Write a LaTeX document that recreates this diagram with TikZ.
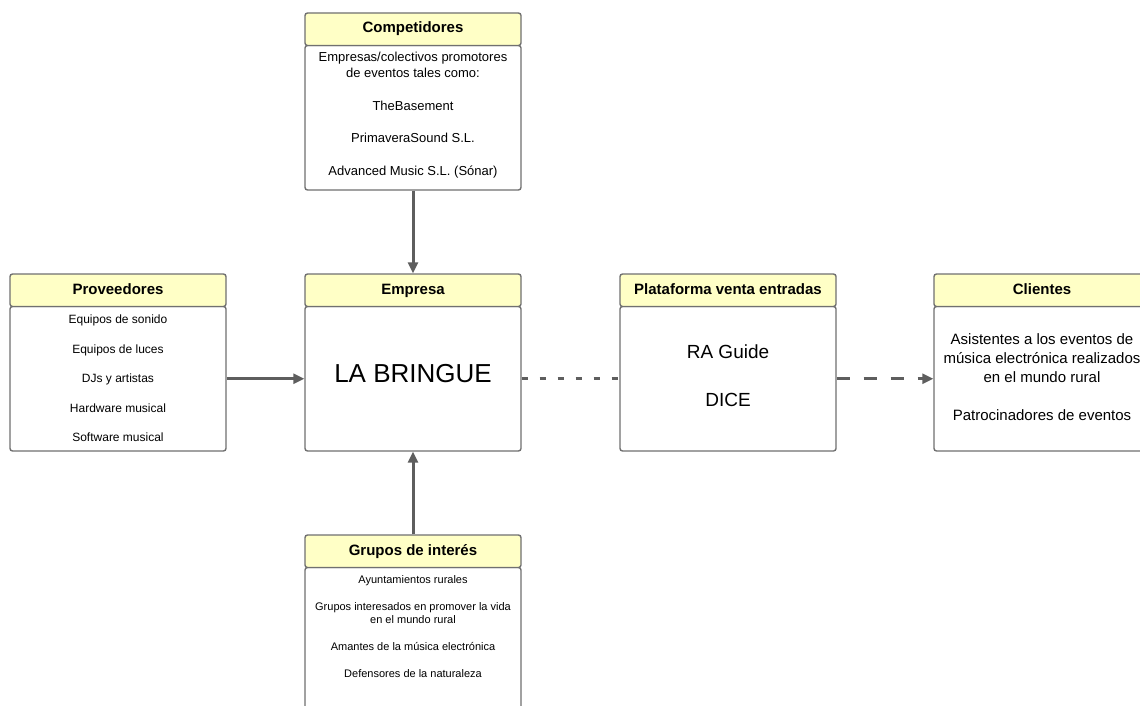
\documentclass[tikz,border=0pt]{standalone}
\usepackage{fontspec}
\setmainfont{Liberation Sans}
\usetikzlibrary{arrows.meta}
\definecolor{hdr}{HTML}{FFFFC6}
\definecolor{edge}{HTML}{707070}
\definecolor{arrc}{HTML}{5E5E5E}
\begin{document}
\begin{tikzpicture}[x=1pt,y=-1pt,
  hbox/.style={draw=edge, line width=1.4pt, fill=hdr, rounded corners=2.5pt,
    minimum width=216pt, minimum height=32.5pt, inner sep=0pt,
    text height=11pt, text depth=3.5pt,
    font=\fontsize{15}{18}\selectfont\bfseries},
  bbox/.style={draw=edge, line width=1.4pt, fill=white, rounded corners=2.5pt,
    minimum width=216pt, inner sep=0pt},
  btext/.style={align=center, inner sep=0pt},
  arr/.style={draw=arrc, line width=3pt, -{Triangle[length=11pt,width=10pt]}},
  dotline/.style={draw=arrc, line width=3pt, dash pattern=on 6pt off 12pt},
]
\useasboundingbox (0,0) rectangle (1140,706);
\clip (0,0) rectangle (1140,706);

% Competidores
\node[bbox, minimum height=144.5pt] (compb) at (413,117.75) {};
\node[hbox] (comph) at (413,29.25) {Competidores};
\node[btext, font=\fontsize{13}{16.2}\selectfont] (compt) at (413,115)
  {Empresas/colectivos promotores\\de eventos tales como:\\[16.2pt]TheBasement\\[16.2pt]PrimaveraSound S.L.\\[16.2pt]Advanced Music S.L. (Sónar)};

% Proveedores
\node[bbox, minimum height=144.5pt] (provb) at (118,378.75) {};
\node[hbox] (provh) at (118,290.25) {Proveedores};
\node[btext, font=\fontsize{12}{29.5}\selectfont] (provt) at (118,378.5)
  {Equipos de sonido\\Equipos de luces\\DJs y artistas\\Hardware musical\\Software musical};

% Empresa
\node[bbox, minimum height=144.5pt] (empb) at (413,378.75) {};
\node[hbox] (emph) at (413,290.25) {Empresa};
\node[btext, font=\fontsize{26}{30}\selectfont] (empt) at (413,374) {LA BRINGUE};

% Plataforma
\node[bbox, minimum height=144.5pt] (platb) at (728,378.75) {};
\node[hbox] (plath) at (728,290.25) {Plataforma venta entradas};
\node[btext, font=\fontsize{19}{48}\selectfont] (platt) at (728,376) {RA Guide\\DICE};

% Clientes
\node[bbox, minimum height=144.5pt] (clib) at (1042,378.75) {};
\node[hbox] (clih) at (1042,290.25) {Clientes};
\node[btext, font=\fontsize{15}{19}\selectfont] (clit) at (1042,377)
  {Asistentes a los eventos de\\música electrónica realizados\\en el mundo rural\\[19pt]Patrocinadores de eventos};

% Grupos de interes
\node[bbox, minimum height=162.5pt] (grpb) at (413,648.75) {};
\node[hbox] (grph) at (413,551.25) {Grupos de interés};
\node[btext, font=\fontsize{11}{13.5}\selectfont] (grpt) at (413,626.5)
  {Ayuntamientos rurales\\[13.5pt]Grupos interesados en promover la vida\\en el mundo rural\\[13.5pt]Amantes de la música electrónica\\[13.5pt]Defensores de la naturaleza};

% Connectors
\draw[arr] (compb.south) -- (emph.north);
\draw[arr] (provb.east) -- (empb.west);
\draw[arr] (grph.north) -- (empb.south);
\draw[dotline] (empb.east) -- (platb.west);
\draw[arr, dash pattern=on 13pt off 14pt] (platb.east) -- (clib.west);
\end{tikzpicture}
\end{document}
